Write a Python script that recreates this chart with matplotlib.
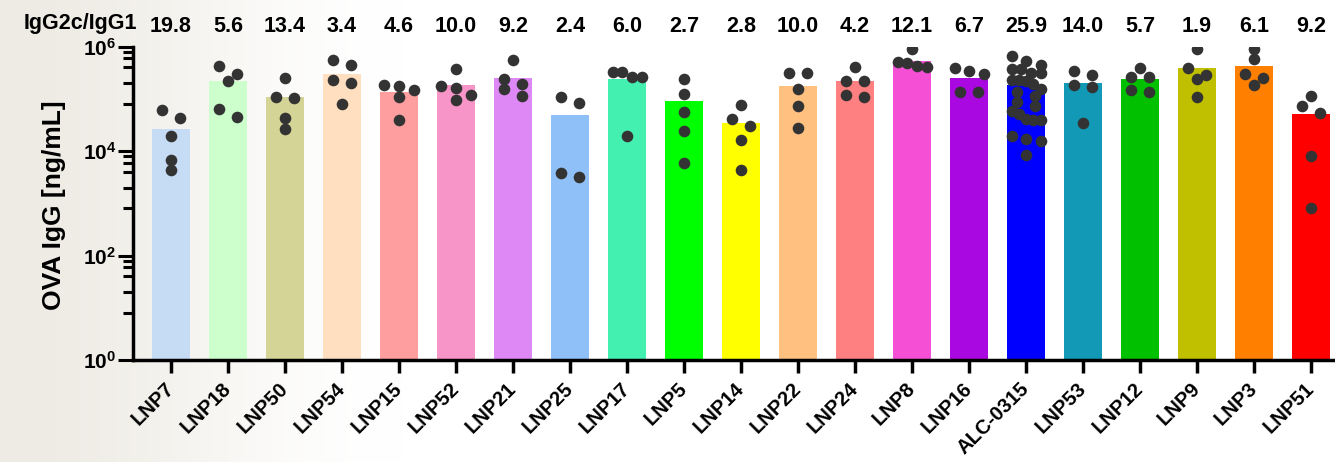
import numpy as np
import matplotlib
matplotlib.use("Agg")
import matplotlib.pyplot as plt
import matplotlib.transforms as mtransforms

plt.rcParams['font.family'] = ['Liberation Sans', 'DejaVu Sans']
plt.rcParams['font.weight'] = 'bold'
plt.rcParams['mathtext.fontset'] = 'custom'
plt.rcParams['mathtext.rm'] = 'Liberation Sans:bold'
plt.rcParams['mathtext.it'] = 'Liberation Sans:bold'
plt.rcParams['mathtext.bf'] = 'Liberation Sans:bold'

# data (ng/mL)
groups = ["LNP7", "LNP18", "LNP50", "LNP54", "LNP15", "LNP52", "LNP21", "LNP25",
          "LNP17", "LNP5", "LNP14", "LNP22", "LNP24", "LNP8", "LNP16", "ALC-0315",
          "LNP53", "LNP12", "LNP9", "LNP3", "LNP51"]
bar_vals = [26000, 214000, 110000, 302000, 135000, 186000, 251000, 49000,
            240000, 91000, 35000, 178000, 214000, 525000, 251000, 186000,
            204000, 240000, 380000, 427000, 51000]
ratios = [19.8, 5.6, 13.4, 3.4, 4.6, 10.0, 9.2, 2.4, 6.0, 2.7, 2.8, 10.0,
          4.2, 12.1, 6.7, 25.9, 14.0, 5.7, 1.9, 6.1, 9.2]
colors = ["#c6dcf5", "#ccffcc", "#d4d496", "#ffdfc0", "#ff9e9e", "#f895c8",
          "#dd88f5", "#90c0f8", "#44f0b0", "#00ff00", "#ffff00", "#ffc080",
          "#ff8080", "#f550d5", "#aa08e0", "#0000ff", "#1199b5", "#00c000",
          "#c0c000", "#ff8000", "#ff0000"]
dot_vals = [
    [62000, 43000, 19000, 6800, 4300],
    [417000, 295000, 219000, 65000, 45000],
    [251000, 102000, 107000, 43000, 26000],
    [550000, 447000, 224000, 200000, 79000],
    [174000, 186000, 148000, 110000, 40000],
    [363000, 174000, 162000, 120000, 95000],
    [562000, 234000, 195000, 155000, 115000],
    [83000, 107000, 3200, 3800],
    [324000, 324000, 263000, 257000, 19000],
    [234000, 126000, 55000, 24000, 5800],
    [76000, 41000, 30000, 16000, 4400],
    [309000, 309000, 155000, 72000, 27000],
    [398000, 214000, 219000, 107000, 120000],
    [900000, 513000, 490000, 398000, 417000],
    [380000, 295000, 339000, 132000, 132000],
    [447000, 525000, 661000, 309000, 309000, 363000, 363000, 224000, 195000,
     214000, 224000, 155000, 115000, 135000, 87000, 74000, 57500, 51300,
     38900, 38900, 41700, 19000, 15800, 16600, 8300],
    [339000, 282000, 186000, 166000, 34000],
    [389000, 257000, 257000, 132000, 145000],
    [900000, 389000, 288000, 234000, 110000],
    [900000, 575000, 302000, 251000, 182000],
    [115000, 74000, 52500, 7900, 800],
]


def swarm_offsets(vals, row_gap=0.173, step=0.326, max_span=0.51):
    # group points into rows of similar value, spread each row sideways
    logv = np.log10(vals)
    order = np.argsort(-logv)
    rows = []
    for i in order:
        if rows and logv[rows[-1][0]] - logv[i] <= row_gap:
            rows[-1].append(i)
        else:
            rows.append([i])
    offs = np.zeros(len(vals))
    for r in rows:
        n = len(r)
        sp = step if n <= 2 else min(step, max_span / (n - 1))
        for k, i in enumerate(r):
            offs[i] = (k - (n - 1) / 2) * sp
    return offs


fig = plt.figure(figsize=(13.35, 4.62), dpi=100)

# faint warm tint on the left side of the picture
bg = fig.add_axes([0, 0, 1, 1], zorder=-1)
t = np.clip(np.linspace(0, 1, 600) / 0.3, 0, 1)
grad = 1 - t * t * (3 - 2 * t)
tint = np.array([238, 235, 228]) / 255.0
img = 1 - (1 - tint)[None, None, :] * grad[None, :, None]
bg.imshow(np.repeat(img, 2, axis=0), aspect="auto", extent=[0, 1, 0, 1])
bg.axis("off")

ax = fig.add_axes([133 / 1335, 102 / 462, 1 - 133 / 1335, 313.5 / 462])
ax.patch.set_alpha(0)

x = np.arange(len(groups))
ax.bar(x, np.array(bar_vals) - 1, bottom=1, width=0.667, color=colors, zorder=2)
for i, v in enumerate(dot_vals):
    v = np.array(v, dtype=float)
    ax.scatter(i + swarm_offsets(v), v, s=70, color="#333333", linewidths=0, zorder=3)

ax.set_yscale("log")
ax.set_ylim(1, 1e6)
ax.set_xlim(-0.667, 20.42)

ax.set_yticks([1, 1e2, 1e4, 1e6])
ax.set_yticklabels([r"$10^{0}$", r"$10^{2}$", r"$10^{4}$", r"$10^{6}$"])
minor = [10 ** t * f for t in (2, 4, 6) for f in (0.8, 0.6, 0.4, 0.2, 0.08)]
ax.set_yticks(minor, minor=True)
ax.yaxis.set_minor_formatter(plt.NullFormatter())

ax.set_xticks(x)
ax.set_xticklabels(groups, rotation=45, ha="right", rotation_mode="anchor", va="center")

for s in ("top", "right"):
    ax.spines[s].set_visible(False)
for s in ("left", "bottom"):
    ax.spines[s].set_linewidth(2.5)

ax.tick_params(axis="y", which="major", length=11, width=2.2, labelsize=15, pad=1)
ax.tick_params(axis="y", which="minor", length=7, width=2.2)
ax.tick_params(axis="x", length=9.5, width=2.5, labelsize=14.5, pad=9)

fig.text(54 / 1335, 0.555, "OVA IgG [ng/mL]", rotation=90, ha="center", va="center",
         fontsize=19, fontweight="bold")

trans = mtransforms.blended_transform_factory(ax.transData, fig.transFigure)
for i, r in enumerate(ratios):
    ax.text(i, 1 - 31.7 / 462, f"{r:.1f}", transform=trans, ha="center", va="baseline",
            fontsize=15.5, fontweight="bold", clip_on=False)
fig.text(137 / 1335, 1 - 28.5 / 462, "IgG2c/IgG1", ha="right", va="baseline",
         fontsize=15.5, fontweight="bold")

fig.savefig("out.png", dpi=100)
